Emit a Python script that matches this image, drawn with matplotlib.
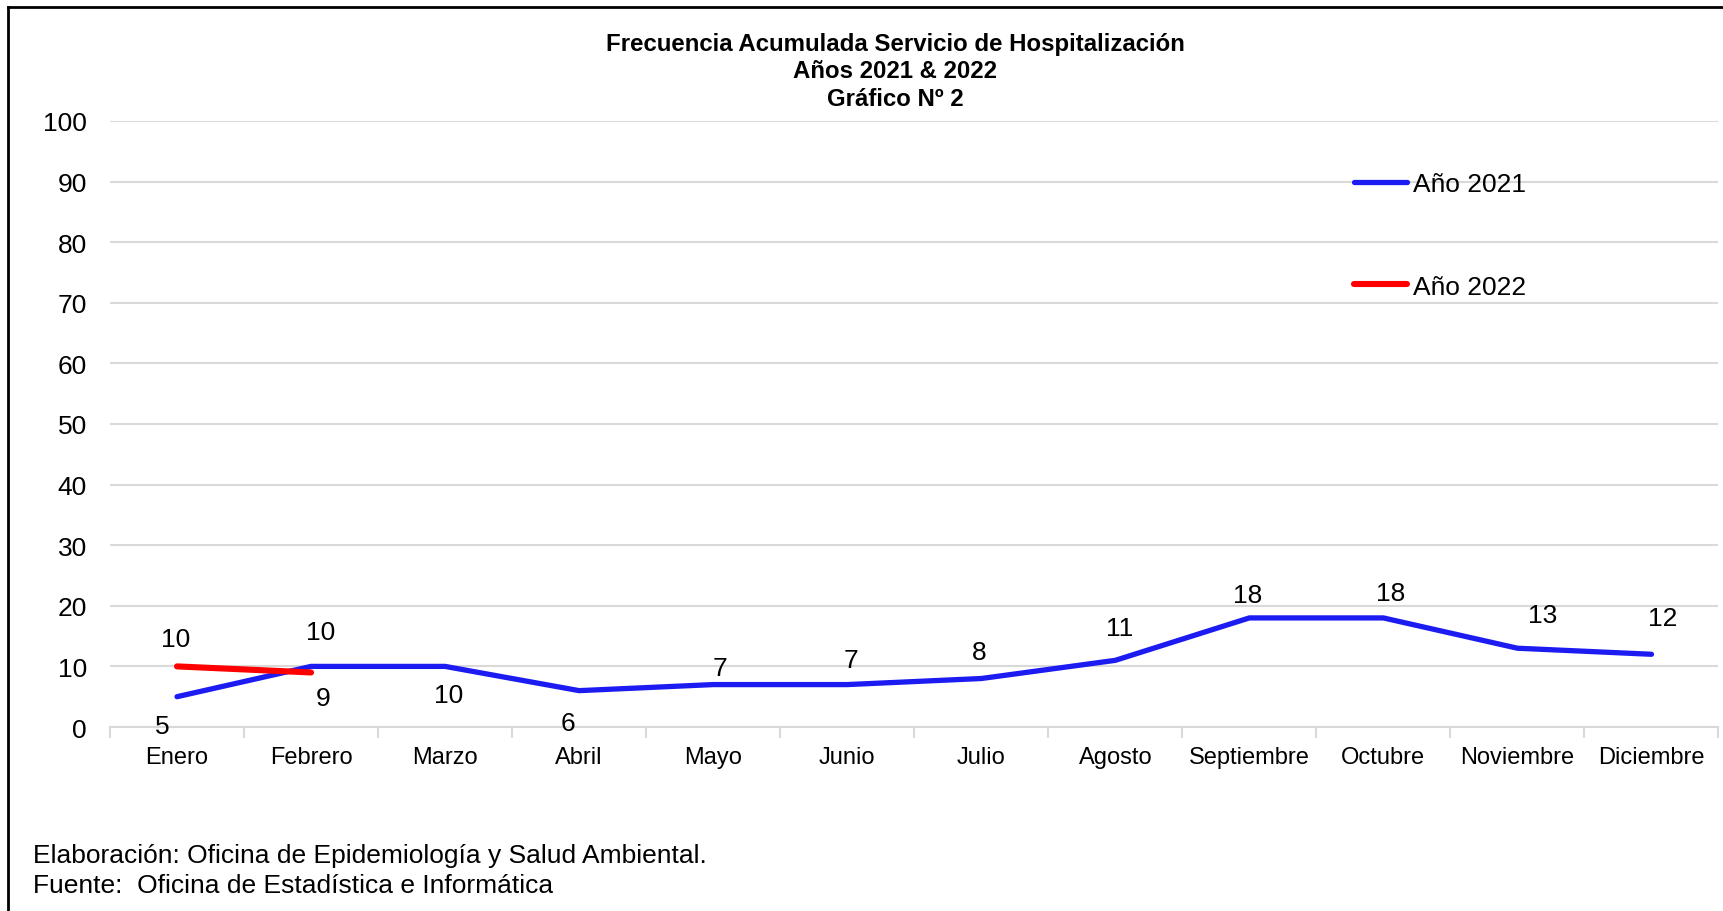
import numpy as np
import matplotlib
matplotlib.use("Agg")
import matplotlib.pyplot as plt
from matplotlib.lines import Line2D

plt.rcParams['font.family'] = ['Liberation Sans', 'DejaVu Sans']

meses = ["Enero", "Febrero", "Marzo", "Abril", "Mayo", "Junio", "Julio",
         "Agosto", "Septiembre", "Octubre", "Noviembre", "Diciembre"]
anio_2021 = [5, 10, 10, 6, 7, 7, 8, 11, 18, 18, 13, 12]
anio_2022 = [10, 9]

# label offsets in pixels (placed by hand in the original)
off_2021 = [(-15, -29), (10, 34), (4, -29), (-11, -32), (7, 17), (4, 25),
            (-2, 27), (4, 32), (-2, 23), (7, 25), (25, 33), (11, 36)]
off_2022 = [(-1, 27), (12, -26)]

W, H = 1724, 912
fig = plt.figure(figsize=(W / 100, H / 100), dpi=100)
ax = fig.add_axes([110 / W, 1 - 728 / H, (1718.5 - 110) / W, (728 - 122) / H])

x = np.arange(len(meses))
grid_c = '#d9d9d9'

l1, = ax.plot(x, anio_2021, color='#1c1cf2', lw=3.8, solid_capstyle='round',
              solid_joinstyle='round', zorder=3, label='Año 2021')
l2, = ax.plot(x[:len(anio_2022)], anio_2022, color='#ff0000', lw=4.4,
              solid_capstyle='round', solid_joinstyle='round', zorder=4,
              label='Año 2022')

for xi, v, (dx, dy) in zip(x, anio_2021, off_2021):
    ax.annotate(str(v), (xi, v), xytext=(dx, dy), textcoords='offset pixels',
                ha='center', va='center', fontsize=19)
for xi, v, (dx, dy) in zip(x, anio_2022, off_2022):
    ax.annotate(str(v), (xi, v), xytext=(dx, dy), textcoords='offset pixels',
                ha='center', va='center', fontsize=19)

ax.set_xlim(-0.5, len(meses) - 0.5)
ax.set_ylim(0, 100)
ax.set_yticks(range(0, 101, 10))
ax.set_xticks(x)
ax.set_xticklabels(meses, fontsize=17)
ax.set_xticks(np.arange(-0.5, len(meses), 1), minor=True)
ax.tick_params(axis='x', which='major', length=0, pad=14)
ax.tick_params(axis='x', which='minor', length=8, width=1.5, color=grid_c)
ax.tick_params(axis='y', length=0, pad=16.5, labelsize=19)
ax.grid(axis='y', color=grid_c, lw=1.5, zorder=0)
ax.set_axisbelow(True)
for s in ['top', 'right', 'left']:
    ax.spines[s].set_visible(False)
ax.spines['bottom'].set_color(grid_c)
ax.spines['bottom'].set_linewidth(1.5)

ax.legend(handles=[l1, l2], loc='upper left', bbox_to_anchor=(1354 / W, 1 - 173 / H),
          bbox_transform=fig.transFigure, frameon=False, fontsize=19,
          handlelength=2.0, handletextpad=0.25, labelspacing=2.98,
          borderpad=0, borderaxespad=0)

titulo = ["Frecuencia Acumulada Servicio de Hospitalización",
          "Años 2021 & 2022", "Gráfico Nº 2"]
for yy, t in zip([44, 71.5, 99], titulo):
    fig.text(895 / W, 1 - yy / H, t, ha='center', va='center',
             fontsize=17.3, fontweight='bold')

fig.text(33 / W, 1 - 856 / H, "Elaboración: Oficina de Epidemiología y Salud Ambiental.",
         ha='left', va='center', fontsize=19)
fig.text(33 / W, 1 - 886 / H, "Fuente:  Oficina de Estadística e Informática",
         ha='left', va='center', fontsize=19)

# outer frame (only top and left edges are visible in the original crop)
fig.add_artist(Line2D([8 / W, 8 / W], [0, 1 - 8 / H], color='black', lw=2,
                      transform=fig.transFigure))
fig.add_artist(Line2D([8 / W, 1], [1 - 8 / H, 1 - 8 / H], color='black', lw=2,
                      transform=fig.transFigure))

fig.savefig('out.png', dpi=100)
